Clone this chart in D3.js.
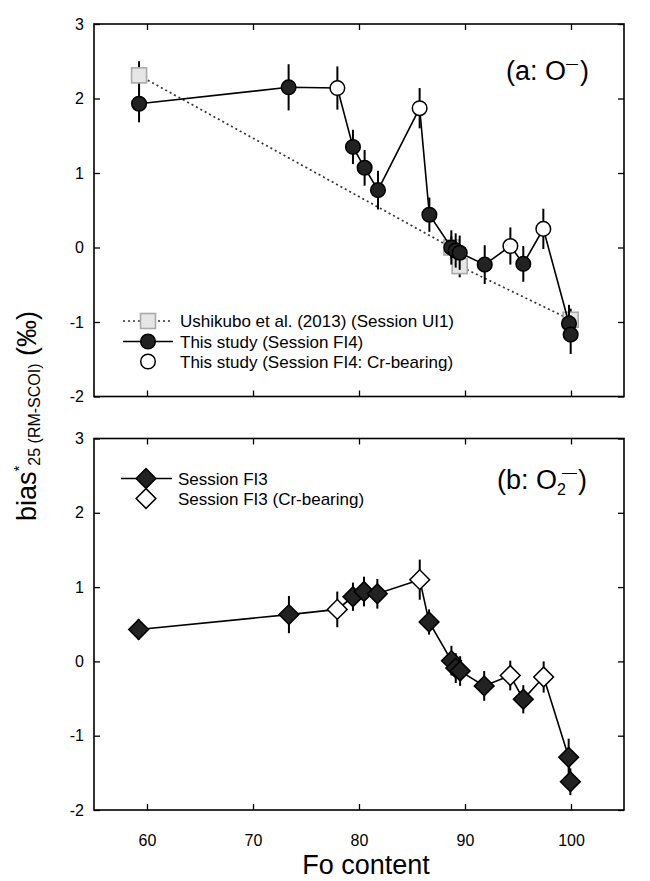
<!DOCTYPE html>
<html>
<head>
<meta charset="utf-8">
<script src="https://cdn.jsdelivr.net/npm/d3@7"></script>
<style>
  body { margin: 0; background: #fff; }
  svg { display: block; font-family: "Liberation Sans", Arial, sans-serif; }
</style>
</head>
<body>
<svg id="chart" width="650" height="881"></svg>
<script>
// ---------- Data ----------
// Panel (a): O- , Session FI4 (this study)
const foA   = [59.25, 73.36, 77.96, 79.43, 80.53, 81.79, 85.72, 86.64, 88.71, 89.12, 89.50, 91.86, 94.28, 95.50, 97.39, 99.81, 99.97];
const biasA = [1.93, 2.15, 2.14, 1.35, 1.07, 0.77, 1.87, 0.44, 0.00, -0.04, -0.07, -0.23, 0.02, -0.22, 0.25, -1.02, -1.17];
const errA  = [0.25, 0.31, 0.29, 0.23, 0.24, 0.26, 0.27, 0.23, 0.23, 0.23, 0.23, 0.26, 0.25, 0.24, 0.27, 0.25, 0.26];
const crA   = [0, 0, 1, 0, 0, 0, 1, 0, 0, 0, 0, 0, 1, 0, 1, 0, 0];

// Panel (a): Ushikubo et al. (2013) (Session UI1)
const foU   = [59.25, 88.71, 89.50, 99.97];
const biasU = [2.31, 0.00, -0.25, -0.97];
const errU  = [0.19, 0.15, 0.15, 0.15];

// Panel (b): O2- , Session FI3
const foB   = [59.21, 73.39, 77.95, 79.43, 80.47, 81.73, 85.73, 86.61, 88.72, 89.13, 89.54, 91.81, 94.27, 95.50, 97.42, 99.78, 99.94];
const biasB = [0.43, 0.63, 0.70, 0.87, 0.94, 0.91, 1.10, 0.53, 0.01, -0.09, -0.13, -0.33, -0.19, -0.51, -0.21, -1.29, -1.62];
const errB  = [0.14, 0.25, 0.24, 0.19, 0.20, 0.20, 0.27, 0.17, 0.20, 0.20, 0.20, 0.20, 0.20, 0.19, 0.21, 0.25, 0.18];
const crB   = [0, 0, 1, 0, 0, 0, 1, 0, 0, 0, 0, 0, 1, 0, 1, 0, 0];

const xTicks = [60, 70, 80, 90, 100];
const yTicks = [-2, -1, 0, 1, 2, 3];

const legendA = ["Ushikubo et al. (2013) (Session UI1)", "This study (Session FI4)", "This study (Session FI4: Cr-bearing)"];
const legendB = ["Session FI3", "Session FI3 (Cr-bearing)"];

// ---------- Layout ----------
const svg = d3.select("#chart");
const L = 94, R = 624;
const x = d3.scaleLinear().domain([55, 105]).range([L, R]);
const yA = d3.scaleLinear().domain([-2, 3]).range([396.5, 24]);
const yB = d3.scaleLinear().domain([-2, 3]).range([810, 438.5]);

const FILL_DARK = "#222";
const FONT = "Liberation Sans, Arial, sans-serif";

function frame(y, showX) {
  const g = svg.append("g");
  const [y0, y1] = y.range();
  const ax = g.append("g").attr("transform", `translate(${L},0)`)
    .call(d3.axisLeft(y).tickValues(yTicks).tickSize(-6).tickPadding(10).tickFormat(d => String(d)));
  ax.select(".domain").remove();
  ax.selectAll("line").attr("stroke", "#000").attr("stroke-width", 1.3);
  ax.selectAll("text").attr("font-size", 16).attr("fill", "#000").attr("font-family", FONT);
  const ar = g.append("g").attr("transform", `translate(${R},0)`)
    .call(d3.axisRight(y).tickValues(yTicks).tickSize(-6).tickFormat(""));
  ar.select(".domain").remove();
  ar.selectAll("line").attr("stroke", "#000").attr("stroke-width", 1.3);
  const at = g.append("g").attr("transform", `translate(0,${y1})`)
    .call(d3.axisTop(x).tickValues(xTicks).tickSize(-6).tickFormat(""));
  at.select(".domain").remove();
  at.selectAll("line").attr("stroke", "#000").attr("stroke-width", 1.3);
  const ab = g.append("g").attr("transform", `translate(0,${y0})`)
    .call(d3.axisBottom(x).tickValues(xTicks).tickSize(-6).tickPadding(25).tickFormat(showX ? (d => String(d)) : ""));
  ab.select(".domain").remove();
  ab.selectAll("line").attr("stroke", "#000").attr("stroke-width", 1.3);
  ab.selectAll("text").attr("font-size", 16).attr("fill", "#000").attr("font-family", FONT);
  g.append("rect").attr("x", L).attr("y", y1).attr("width", R - L).attr("height", y0 - y1)
    .attr("fill", "none").attr("stroke", "#000").attr("stroke-width", 1.6);
}

function errorBars(g, xs, ys, es, y) {
  g.selectAll(null).data(xs.map((v, i) => ({ x: v, y: ys[i], e: es[i] })))
    .join("line")
    .attr("x1", d => x(d.x)).attr("x2", d => x(d.x))
    .attr("y1", d => y(d.y - d.e)).attr("y2", d => y(d.y + d.e))
    .attr("stroke", "#000").attr("stroke-width", 2);
}

// ---------- Panel (a) ----------
frame(yA, false);
const gA = svg.append("g");
const ptsU = foU.map((v, i) => ({ x: v, y: biasU[i] }));
gA.append("path").datum(ptsU)
  .attr("d", d3.line().x(d => x(d.x)).y(d => yA(d.y)))
  .attr("fill", "none").attr("stroke", "#333").attr("stroke-width", 1.7).attr("stroke-dasharray", "2,3");
errorBars(gA, foU, biasU, errU, yA);
gA.selectAll(null).data(ptsU).join("rect")
  .attr("x", d => x(d.x) - 7.5).attr("y", d => yA(d.y) - 7.5).attr("width", 15).attr("height", 15)
  .attr("fill", "#e6e6e6").attr("stroke", "#aaa").attr("stroke-width", 1.6);

const ptsA = foA.map((v, i) => ({ x: v, y: biasA[i], cr: crA[i] }));
gA.append("path").datum(ptsA)
  .attr("d", d3.line().x(d => x(d.x)).y(d => yA(d.y)))
  .attr("fill", "none").attr("stroke", "#000").attr("stroke-width", 1.6);
errorBars(gA, foA, biasA, errA, yA);
gA.selectAll(null).data(ptsA).join("circle")
  .attr("cx", d => x(d.x)).attr("cy", d => yA(d.y)).attr("r", 7.3)
  .attr("fill", d => d.cr ? "#fff" : FILL_DARK).attr("stroke", "#000").attr("stroke-width", 1.5);

// legend (a)
const lgA = svg.append("g");
const rowsA = [321, 341.5, 361.5];
lgA.append("line").attr("x1", 123).attr("x2", 173).attr("y1", rowsA[0]).attr("y2", rowsA[0])
  .attr("stroke", "#333").attr("stroke-width", 1.7).attr("stroke-dasharray", "2,3");
lgA.append("rect").attr("x", 148 - 7.5).attr("y", rowsA[0] - 7.5).attr("width", 15).attr("height", 15)
  .attr("fill", "#e6e6e6").attr("stroke", "#aaa").attr("stroke-width", 1.6);
lgA.append("line").attr("x1", 123).attr("x2", 173).attr("y1", rowsA[1]).attr("y2", rowsA[1])
  .attr("stroke", "#000").attr("stroke-width", 1.6);
lgA.append("circle").attr("cx", 148).attr("cy", rowsA[1]).attr("r", 7.3)
  .attr("fill", FILL_DARK).attr("stroke", "#000").attr("stroke-width", 1.5);
lgA.append("circle").attr("cx", 148).attr("cy", rowsA[2]).attr("r", 7.3)
  .attr("fill", "#fff").attr("stroke", "#000").attr("stroke-width", 1.5);
lgA.selectAll("text.lg").data(legendA).join("text").attr("class", "lg")
  .attr("x", 180).attr("y", (d, i) => rowsA[i] + 6).attr("font-size", 17).text(d => d);

// panel label (a)
const tA = svg.append("text").attr("x", 506).attr("y", 80).attr("font-size", 27);
tA.append("tspan").text("(a: O");
tA.append("tspan").attr("dy", -12).attr("font-size", 12).text("\u2014");
tA.append("tspan").attr("dy", 12).attr("dx", 2).text(")");

// ---------- Panel (b) ----------
frame(yB, true);
const gB = svg.append("g");
const ptsB = foB.map((v, i) => ({ x: v, y: biasB[i], cr: crB[i] }));
gB.append("path").datum(ptsB)
  .attr("d", d3.line().x(d => x(d.x)).y(d => yB(d.y)))
  .attr("fill", "none").attr("stroke", "#000").attr("stroke-width", 1.6);
errorBars(gB, foB, biasB, errB, yB);
const diamond = d3.symbol().type(d3.symbolSquare).size(195);
gB.selectAll(null).data(ptsB).join("path")
  .attr("d", diamond)
  .attr("transform", d => `translate(${x(d.x)},${yB(d.y)}) rotate(45)`)
  .attr("fill", d => d.cr ? "#fff" : FILL_DARK).attr("stroke", "#000").attr("stroke-width", 1.5);

// legend (b)
const lgB = svg.append("g");
const rowsB = [478.5, 498.5];
lgB.append("line").attr("x1", 121).attr("x2", 172).attr("y1", rowsB[0]).attr("y2", rowsB[0])
  .attr("stroke", "#000").attr("stroke-width", 1.6);
lgB.append("path").attr("d", diamond).attr("transform", `translate(146,${rowsB[0]}) rotate(45)`)
  .attr("fill", FILL_DARK).attr("stroke", "#000").attr("stroke-width", 1.5);
lgB.append("path").attr("d", diamond).attr("transform", `translate(146,${rowsB[1]}) rotate(45)`)
  .attr("fill", "#fff").attr("stroke", "#000").attr("stroke-width", 1.5);
lgB.selectAll("text.lg").data(legendB).join("text").attr("class", "lg")
  .attr("x", 178).attr("y", (d, i) => rowsB[i] + 6).attr("font-size", 17).text(d => d);

// panel label (b)
const tB = svg.append("text").attr("x", 497).attr("y", 489).attr("font-size", 27);
tB.append("tspan").text("(b: O");
tB.append("tspan").attr("dy", 6).attr("font-size", 16).text("2");
tB.append("tspan").attr("dy", -18).attr("dx", -4).attr("font-size", 15).text("\u2014");
tB.append("tspan").attr("dy", 12).attr("dx", 1).text(")");

// ---------- Axis titles ----------
svg.append("text").attr("x", 366).attr("y", 874).attr("text-anchor", "middle")
  .attr("font-size", 27).text("Fo content");

const yl = svg.append("text").attr("transform", "translate(36,416) rotate(-90)")
  .attr("text-anchor", "middle").attr("font-size", 27);
yl.append("tspan").text("bias");
yl.append("tspan").attr("dy", -12).attr("font-size", 15).text("*");
yl.append("tspan").attr("dy", 16).attr("font-size", 16).text("25 (RM-SCOI)");
yl.append("tspan").attr("dy", -4).text(" (\u2030)");
</script>
</body>
</html>
